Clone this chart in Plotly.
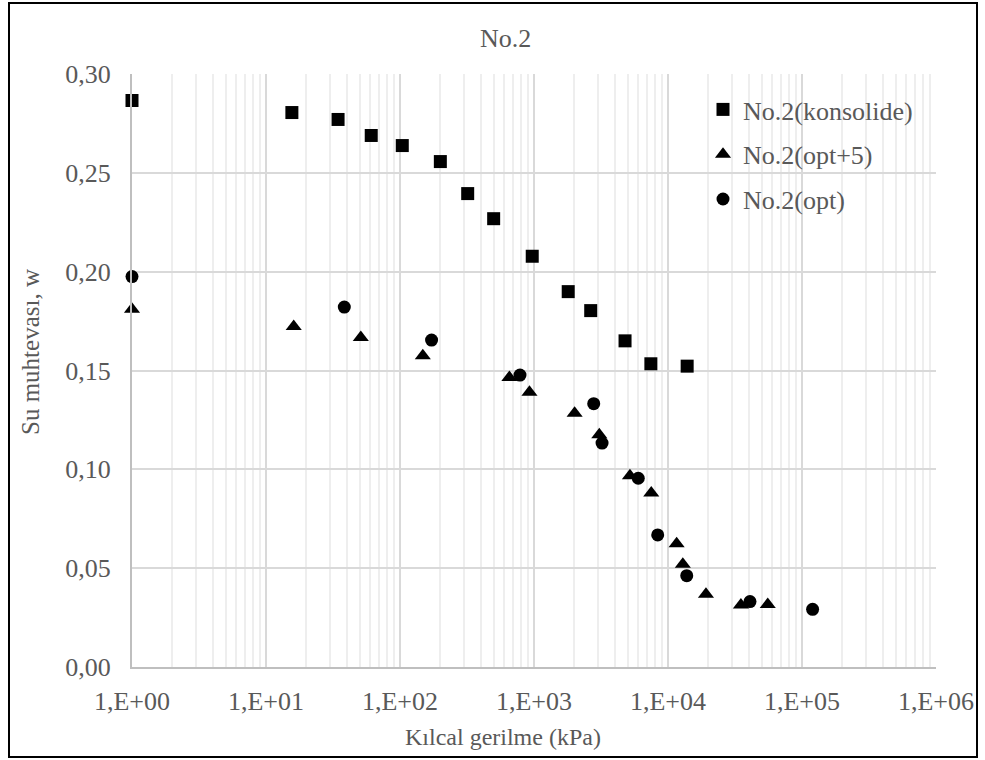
import plotly.graph_objects as go

# Capillary suction (kPa) vs. water content for sample No.2
konsolide_kpa = [1, 15.6, 34.5, 61, 104, 200, 320, 500, 970, 1800, 2650, 4780, 7450, 13900]
konsolide_w = [0.2866, 0.2805, 0.2770, 0.2689, 0.2638, 0.2557, 0.2395, 0.2268, 0.2078, 0.1899, 0.1803, 0.1650, 0.1534, 0.1522]

opt5_kpa = [1, 16.1, 51, 148, 655, 925, 2010, 3070, 5200, 7500, 11600, 12900, 19200, 35000, 55500]
opt5_w = [0.1810, 0.1723, 0.1667, 0.1575, 0.1465, 0.1390, 0.1284, 0.1175, 0.0967, 0.0880, 0.0623, 0.0520, 0.0368, 0.0314, 0.0316]

opt_kpa = [1, 38.4, 172, 786, 2790, 3220, 6000, 8380, 13800, 40900, 120000]
opt_w = [0.1975, 0.1821, 0.1654, 0.1477, 0.1332, 0.1133, 0.0955, 0.0668, 0.0462, 0.0331, 0.0292]

series_names = ["No.2(konsolide)", "No.2(opt+5)", "No.2(opt)"]
x_tick_values = [1, 10, 100, 1000, 10000, 100000, 1000000]
x_tick_labels = ["1,E+00", "1,E+01", "1,E+02", "1,E+03", "1,E+04", "1,E+05", "1,E+06"]

FONT = "Liberation Serif, Times New Roman, serif"
GREY_TEXT = "#595959"


def font(size=26):
    return dict(family=FONT, size=size, color=GREY_TEXT)


fig = go.Figure()
fig.add_trace(go.Scatter(x=konsolide_kpa, y=konsolide_w, mode="markers", name=series_names[0],
                         legendgroup="a", cliponaxis=False,
                         marker=dict(symbol="square", size=13, color="black")))
fig.add_trace(go.Scatter(x=opt5_kpa, y=opt5_w, mode="markers", name=series_names[1],
                         legendgroup="b", cliponaxis=False,
                         marker=dict(symbol="triangle-up", size=14, color="black")))
fig.add_trace(go.Scatter(x=opt_kpa, y=opt_w, mode="markers", name=series_names[2],
                         legendgroup="c", cliponaxis=False,
                         marker=dict(symbol="circle", size=13, color="black")))

L, R, T, B = 132, 49, 74, 93
PW, PH = 985 - L - R, 760 - T - B


def px_x(px):
    return (px - L) / PW


def px_y(py):
    return (760 - B - py) / PH


fig.update_layout(
    width=985, height=760,
    margin=dict(l=L, r=R, t=T, b=B),
    paper_bgcolor="white", plot_bgcolor="white",
    separators=", ",
    font=font(),
    showlegend=True,
    legend=dict(x=px_x(703), y=px_y(86), xanchor="left", yanchor="top",
                bgcolor="rgba(0,0,0,0)", font=font(),
                tracegroupgap=8, itemwidth=30),
    xaxis=dict(type="log", range=[0, 6], tickvals=x_tick_values, ticktext=x_tick_labels,
               showgrid=True, gridcolor="#d9d9d9", gridwidth=1.5,
               minor=dict(dtick="D1", showgrid=True, gridcolor="#eeeeee", gridwidth=1.5, ticks=""),
               showline=True, linecolor="#bfbfbf", linewidth=2, ticks="",
               ticklabelstandoff=10,
               zeroline=False, tickfont=font()),
    yaxis=dict(range=[0, 0.30], dtick=0.05, tickformat=".2f",
               showgrid=True, gridcolor="#d9d9d9", gridwidth=1.5,
               showline=True, linecolor="#bfbfbf", linewidth=2, ticks="",
               ticklabelstandoff=14,
               zeroline=False, tickfont=font()),
)

# chart titles
fig.add_annotation(text="No.2", xref="paper", yref="paper", x=px_x(505), y=px_y(39),
                   showarrow=False, font=font(26), xanchor="center", yanchor="middle")
fig.add_annotation(text="Kılcal gerilme (kPa)", xref="paper", yref="paper", x=px_x(503), y=px_y(737),
                   showarrow=False, font=font(24), xanchor="center", yanchor="middle")
fig.add_annotation(text="Su muhtevası, w", xref="paper", yref="paper", x=px_x(30), y=px_y(352),
                   textangle=-90, showarrow=False, font=font(25),
                   xanchor="center", yanchor="middle")

# outer chart frame
fig.add_shape(type="rect", xref="paper", yref="paper",
              x0=px_x(9), x1=px_x(977), y0=px_y(757), y1=px_y(3),
              line=dict(color="black", width=2), fillcolor="rgba(0,0,0,0)", layer="above")

fig.write_html("out.html")
